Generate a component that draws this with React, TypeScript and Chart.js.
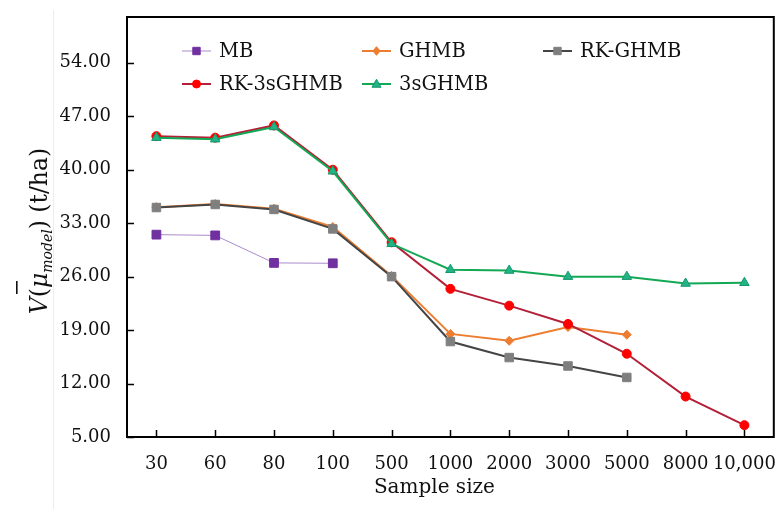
import React, { useEffect, useRef } from 'react';
import { Chart, registerables } from 'chart.js';

Chart.register(...registerables);

const categories = ['30', '60', '80', '100', '500', '1000', '2000', '3000', '5000', '8000', '10,000'];
const mbValues = [31.5, 31.4, 27.8, 27.75, null, null, null, null, null, null, null];
const ghmbValues = [35.1, 35.5, 34.9, 32.5, 26.1, 18.5, 17.6, 19.4, 18.4, null, null];
const rkGhmbValues = [35.05, 35.45, 34.8, 32.25, 26.0, 17.5, 15.4, 14.3, 12.8, null, null];
const rk3sGhmbValues = [44.4, 44.2, 45.8, 40.0, 30.5, 24.4, 22.2, 19.8, 15.9, 10.3, 6.55];
const s3GhmbValues = [44.2, 44.0, 45.6, 39.8, 30.3, 26.9, 26.8, 26.0, 26.0, 25.1, 25.2];
const yTickValues = [5, 12, 19, 26, 33, 40, 47, 54];
const yMin = 5;
const yMax = 60;

const seriesNames = ['MB', 'GHMB', 'RK-GHMB', 'RK-3sGHMB', '3sGHMB'];

const FONT = '"DejaVu Serif", "Liberation Serif", serif';

type Style = {
  line: string;
  fill: string;
  border: string;
  width: number;
  shape: string;
  radius: number;
};

const styles: Style[] = [
  { line: '#A98BCB', fill: '#7030A0', border: '#7030A0', width: 1, shape: 'rect', radius: 6.2 },
  { line: '#ED7D31', fill: '#ED7D31', border: '#ED7D31', width: 2, shape: 'rectRot', radius: 4.5 },
  { line: '#454545', fill: '#7F7F7F', border: '#7F7F7F', width: 2, shape: 'rect', radius: 6 },
  { line: '#B42038', fill: '#FF0000', border: '#FF0000', width: 2, shape: 'circle', radius: 4.5 },
  { line: '#12A854', fill: '#22B487', border: '#13986A', width: 2, shape: 'triangle', radius: 5.5 },
];
const drawOrder = [4, 3, 2, 1, 0];

function drawMarker(ctx: CanvasRenderingContext2D, shape: string, x: number, y: number, s: number, fill: string, border: string) {
  ctx.save();
  ctx.fillStyle = fill;
  ctx.strokeStyle = border;
  ctx.lineWidth = 1;
  ctx.beginPath();
  if (shape === 'rect') {
    ctx.rect(x - s, y - s, 2 * s, 2 * s);
  } else if (shape === 'rectRot') {
    ctx.moveTo(x, y - s * 1.2);
    ctx.lineTo(x + s, y);
    ctx.lineTo(x, y + s * 1.2);
    ctx.lineTo(x - s, y);
    ctx.closePath();
  } else if (shape === 'circle') {
    ctx.arc(x, y, s, 0, Math.PI * 2);
  } else {
    ctx.moveTo(x, y - s * 1.1);
    ctx.lineTo(x + s * 1.05, y + s * 0.75);
    ctx.lineTo(x - s * 1.05, y + s * 0.75);
    ctx.closePath();
  }
  ctx.fill();
  ctx.stroke();
  ctx.restore();
}

const decorPlugin = {
  id: 'decor',
  afterDraw(chart: any) {
    const ctx: CanvasRenderingContext2D = chart.ctx;
    const area = chart.chartArea;
    const xs = chart.scales.x;
    const ys = chart.scales.y;
    ctx.save();

    // faint line at the left of the figure
    ctx.strokeStyle = '#ececec';
    ctx.lineWidth = 1;
    ctx.beginPath();
    ctx.moveTo(53.5, 10);
    ctx.lineTo(53.5, chart.height);
    ctx.stroke();

    // frame
    ctx.strokeStyle = '#000';
    ctx.lineWidth = 2;
    ctx.strokeRect(area.left, area.top, area.right - area.left, area.bottom - area.top);

    // inward ticks
    ctx.lineWidth = 1.5;
    ctx.beginPath();
    for (let i = 0; i < categories.length; i++) {
      const px = Math.round(xs.getPixelForValue(i)) + 0.5;
      ctx.moveTo(px, area.bottom);
      ctx.lineTo(px, area.bottom - 7);
    }
    for (const v of yTickValues) {
      const py = Math.round(ys.getPixelForValue(v)) + 0.5;
      ctx.moveTo(area.left, py);
      ctx.lineTo(area.left + 7, py);
    }
    ctx.stroke();

    // legend
    const colX = [area.left + 55, area.left + 235, area.left + 416];
    const rowY = [area.top + 34, area.top + 67];
    ctx.font = `19.5px ${FONT}`;
    ctx.textBaseline = 'middle';
    ctx.textAlign = 'left';
    seriesNames.forEach((name, i) => {
      const st = styles[i];
      const cx = colX[i % 3];
      const cy = rowY[Math.floor(i / 3)];
      ctx.strokeStyle = st.line;
      ctx.lineWidth = st.width;
      ctx.beginPath();
      ctx.moveTo(cx, cy);
      ctx.lineTo(cx + 29, cy);
      ctx.stroke();
      const ms = st.shape === 'rect' ? 3.7 : st.shape === 'triangle' ? 4.3 : st.shape === 'circle' ? 4 : 3.6;
      drawMarker(ctx, st.shape, cx + 14.5, cy, ms, st.fill, st.border);
      ctx.fillStyle = '#111';
      ctx.fillText(name, cx + 37, cy + 1);
    });

    // x title
    ctx.font = `20px ${FONT}`;
    ctx.textAlign = 'center';
    ctx.textBaseline = 'alphabetic';
    ctx.fillStyle = '#111';
    ctx.fillText('Sample size', (area.left + area.right) / 2 - 16, 493);

    // y title (rotated)
    const big = 23.5;
    const small = 14;
    const segs = [
      { t: 'V', f: `italic ${big}px ${FONT}`, dy: 0 },
      { t: '(', f: `${big}px ${FONT}`, dy: 0 },
      { t: 'μ', f: `italic ${big}px ${FONT}`, dy: 0, bar: true },
      { t: 'model', f: `italic ${small}px ${FONT}`, dy: 5 },
      { t: ')', f: `${big}px ${FONT}`, dy: 0 },
      { t: ' (t/ha)', f: `${big}px ${FONT}`, dy: 0 },
    ];
    let total = 0;
    const widths: number[] = [];
    for (const s of segs) {
      ctx.font = s.f;
      const w = ctx.measureText(s.t).width;
      widths.push(w);
      total += w;
    }
    ctx.translate(47, 231);
    ctx.rotate(-Math.PI / 2);
    ctx.textAlign = 'left';
    let x = -total / 2;
    segs.forEach((s, i) => {
      ctx.font = s.f;
      ctx.fillText(s.t, x, s.dy);
      if ((s as any).bar) {
        ctx.fillRect(x - 6, -31, 13, 1.6);
      }
      x += widths[i];
    });

    ctx.restore();
  },
};

export default function App() {
  const canvasRef = useRef<HTMLCanvasElement | null>(null);

  useEffect(() => {
    document.body.style.margin = '0';
    const canvas = canvasRef.current;
    if (!canvas) return;
    const allValues = [mbValues, ghmbValues, rkGhmbValues, rk3sGhmbValues, s3GhmbValues];
    const chart = new Chart(canvas, {
      type: 'line',
      data: {
        labels: categories,
        datasets: seriesNames.map((name, i) => ({
          label: name,
          data: allValues[i],
          borderColor: styles[i].line,
          borderWidth: styles[i].width,
          backgroundColor: styles[i].fill,
          pointBackgroundColor: styles[i].fill,
          pointBorderColor: styles[i].border,
          pointBorderWidth: 1,
          pointStyle: styles[i].shape as any,
          pointRadius: styles[i].radius,
          pointHoverRadius: styles[i].radius,
          tension: 0,
          spanGaps: false,
          fill: false,
          order: drawOrder[i],
        })),
      },
      options: {
        animation: false,
        responsive: false,
        maintainAspectRatio: false,
        layout: { padding: { top: 17, right: 6, left: 0, bottom: 0 } },
        plugins: {
          legend: { display: false },
          title: { display: false },
          tooltip: { enabled: false },
        },
        scales: {
          x: {
            type: 'category',
            offset: true,
            grid: { display: false, drawTicks: false },
            border: { display: false },
            ticks: {
              color: '#111',
              font: { family: FONT, size: 18 },
              padding: 17,
              maxRotation: 0,
              autoSkip: false,
            },
            afterFit: (scale: any) => {
              scale.height = 72;
              scale.paddingLeft = 0;
              scale.paddingRight = 0;
            },
          },
          y: {
            min: yMin,
            max: yMax,
            grid: { display: false, drawTicks: false },
            border: { display: false },
            afterBuildTicks: (scale: any) => {
              scale.ticks = yTickValues.map((v) => ({ value: v }));
            },
            ticks: {
              color: '#111',
              font: { family: FONT, size: 18 },
              padding: 16,
              callback: (v: any) => Number(v).toFixed(2),
            },
            afterFit: (scale: any) => {
              scale.width = 127;
              scale.paddingTop = 0;
              scale.paddingBottom = 0;
            },
          },
        },
      },
      plugins: [decorPlugin],
    });
    return () => chart.destroy();
  }, []);

  return (
    <div style={{ width: 781, height: 509, background: '#fff' }}>
      <canvas ref={canvasRef} width={781} height={509} />
    </div>
  );
}
